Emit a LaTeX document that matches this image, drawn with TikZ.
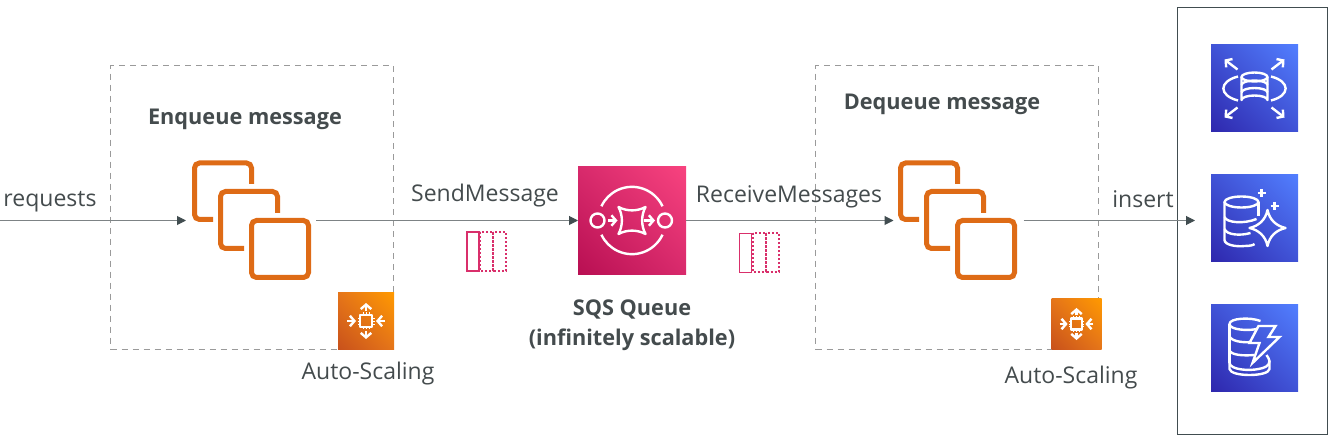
\documentclass[tikz,border=0pt]{standalone}
\usepackage{fontspec}
\setmainfont{Open Sans}
\usetikzlibrary{arrows.meta,shadings}
\definecolor{txt}{HTML}{444B4D}
\definecolor{conn}{HTML}{7D8385}
\definecolor{tip}{HTML}{414D50}
\definecolor{dashc}{HTML}{9A9A9A}
\definecolor{stackc}{HTML}{DE6B16}
\definecolor{pinkc}{HTML}{D92F6B}
\definecolor{sqsA}{HTML}{B80F52}
\definecolor{sqsB}{HTML}{F8437F}
\definecolor{sqsM}{HTML}{D82A6C}
\definecolor{dbA}{HTML}{2E27AD}
\definecolor{dbB}{HTML}{527FFF}
\definecolor{dbM}{HTML}{4053D6}
\definecolor{asA}{HTML}{C8511B}
\definecolor{asB}{HTML}{FF9900}
\definecolor{asM}{HTML}{E5751A}
\tikzset{
  x=1pt,y=-1pt,
  lbl/.style={text=txt,font=\fontsize{23}{27}\selectfont,inner sep=0pt},
  blbl/.style={text=txt,font=\fontsize{21.7}{26}\selectfont\bfseries,inner sep=0pt},
  dashbox/.style={draw=dashc,line width=1.2pt,dash pattern=on 6pt off 5pt,minimum width=283pt,minimum height=284pt,inner sep=0pt,anchor=north west},
  hold/.style={minimum width=130pt,minimum height=120pt,inner sep=0pt,outer sep=0pt},
  link/.style={draw=conn,line width=1pt,-{Triangle[length=9pt,width=9pt,color=tip]}},
  sq/.style={draw=stackc,line width=5pt,rounded corners=5pt,line cap=butt},
  ico/.style={draw=white,line width=2.4pt,line join=round},
  barb/.style={ico,-{Straight Barb[length=4.5pt,width=10.5pt]}},
  sqsbox/.style={minimum size=108pt,inner sep=0pt,outer sep=0pt,shade,lower left=sqsA,upper right=sqsB,upper left=sqsM,lower right=sqsM},
  dbbox/.style={minimum size=87pt,inner sep=0pt,outer sep=0pt,shade,lower left=dbA,upper right=dbB,upper left=dbM,lower right=dbM},
  asbox/.style={inner sep=0pt,outer sep=0pt,shade,lower left=asA,upper right=asB,upper left=asM,lower right=asM},
  stackicon/.pic={
    \draw[sq] (0.5,-36.5) -- (0.5,-57.5) -- (-56.5,-57.5) -- (-56.5,-1) -- (-38,-1);
    \draw[sq] (26.5,-7.5) -- (26.5,-29) -- (-30.5,-29) -- (-30.5,28) -- (-7,28);
    \draw[sq] (0.5,0) rectangle (57.5,57);
  },
  msgicon/.pic={
    \draw[draw=pinkc,line width=1.8pt] (0,0) rectangle (12,39);
    \draw[draw=pinkc,line width=2pt,dash pattern=on 2pt off 2pt] (13,0) rectangle (26,39);
    \draw[draw=pinkc,line width=2pt,dash pattern=on 2pt off 2pt] (26,0) rectangle (39,39);
  },
  asicon/.pic={
    \draw[ico] (-6,-6) rectangle (6,6);
    \foreach \k in {-3,0,3}{
      \draw[white,line width=.9pt] (\k,-6) -- (\k,-8.5) (\k,6) -- (\k,8.5) (-6,\k) -- (-8.5,\k) (6,\k) -- (8.5,\k);
    }
    \draw[barb] (0,-10) -- (0,-18);
    \draw[barb] (0,10) -- (0,18);
    \draw[barb] (-19,0) -- (-10,0);
    \draw[barb] (19,0) -- (10,0);
  }
}
\begin{document}
\begin{tikzpicture}
\useasboundingbox (0,0) rectangle (1328,438);
% containers
\node[dashbox] (boxA) at (110,65) {};
\node[dashbox] (boxB) at (815,65) {};
\node[draw=tip,line width=1.3pt,minimum width=150pt,minimum height=427pt,inner sep=0pt,anchor=north west] (group) at (1177,7) {};
% anchors
\coordinate (reqstart) at (0,220.5);
\node[hold] (stackA) at (251,220.5) {};
\node[hold] (stackB) at (958.5,220.5) {};
\node[sqsbox] (sqs) at (632,220.5) {};
\node[dbbox] (rds) at (1254.5,88.5) {};
\node[dbbox] (aurora) at (1254.5,218) {};
\node[dbbox] (dynamo) at (1254.5,348) {};
% connectors
\draw[link] (reqstart) -- (stackA.west);
\draw[link] (stackA.east) -- (sqs.west);
\draw[link] (sqs.east) -- (stackB.west);
\draw[link,shorten >=16pt] (stackB.east) -- (stackB.east -| aurora.west);
% stacks
\pic at (251,220.5) {stackicon};
\pic at (957,220.5) {stackicon};
% autoscaling
\node[asbox,minimum size=56pt] (asiconA) at (366,321) {};
\pic at (asiconA.center) {asicon};
\node[asbox,minimum size=50pt] (asiconB) at (1076.5,324) {};
\pic[scale=.89] at (asiconB.center) {asicon};
% messages
\pic at (467,232) {msgicon};
\pic at (739.5,233.5) {msgicon};
% SQS icon
\begin{scope}[shift={(sqs.center)}]
  \draw[ico] (30.5,-14.2) arc[start angle=-25,end angle=-155,radius=33.7];
  \draw[ico] (30.5,14.2) arc[start angle=25,end angle=155,radius=33.7];
  \draw[ico] (-34.5,0) circle[radius=7];
  \draw[ico] (33,0) circle[radius=7];
  \draw[barb] (-24,0) -- (-14.5,0);
  \draw[barb] (12,0) -- (23,0);
  \draw[ico] (-13.5,-13.5) .. controls (-5,-9) and (5,-9) .. (13.5,-13.5)
     .. controls (9,-5) and (9,5) .. (13.5,13.5)
     .. controls (5,9) and (-5,9) .. (-13.5,13.5)
     .. controls (-9,5) and (-9,-5) .. (-13.5,-13.5) -- cycle;
\end{scope}
% RDS icon
\begin{scope}[shift={(rds.center)}]
  \draw[ico] (0,-11.5) ellipse[x radius=13,y radius=4.5];
  \draw[ico] (-13,-11.5) -- (-13,11.5) arc[start angle=180,end angle=0,x radius=13,y radius=-4.5] -- (13,-11.5);
  \draw[ico] (-13,-3.5) arc[start angle=180,end angle=0,x radius=13,y radius=-4.5];
  \draw[ico] (-13,4) arc[start angle=180,end angle=0,x radius=13,y radius=-4.5];
  \draw[ico] (-16.5,-12) .. controls (-36,-7) and (-36,7) .. (-16.5,12);
  \draw[ico] (16.5,-12) .. controls (36,-7) and (36,7) .. (16.5,12);
  \draw[barb] (-17,-19) -- (-30,-29);
  \draw[barb] (17,-19) -- (30,-29);
  \draw[barb] (-17,19) -- (-30,29);
  \draw[barb] (17,19) -- (30,29);
\end{scope}
% Aurora icon
\begin{scope}[shift={(aurora.center)}]
  \draw[ico] (-13,-16) ellipse[x radius=17,y radius=5.5];
  \draw[ico] (4,-16) -- (4,-2);
  \draw[ico] (-30,-16) -- (-30,22) .. controls (-30,27) and (-18,29) .. (-10,28) .. controls (-4,28) and (-1,27) .. (0,26);
  \draw[ico] (-30,-1) .. controls (-28,5) and (-10,6) .. (2,1);
  \draw[ico] (-30,11) .. controls (-28,17) and (-14,18) .. (-4,15);
  \draw[ico] (13,-8) .. controls (15,2) and (22,8) .. (31,10)
     .. controls (22,12) and (15,18) .. (13,28)
     .. controls (11,18) and (4,12) .. (-5,10)
     .. controls (4,8) and (11,2) .. (13,-8) -- cycle;
  \draw[ico] (3,-25) -- (11,-25) (7,-29) -- (7,-21);
  \draw[ico] (16,-12) -- (24,-12) (20,-16) -- (20,-8);
\end{scope}
% DynamoDB icon
\begin{scope}[shift={(dynamo.center)}]
  \draw[ico] (6,-27) .. controls (-4,-31) and (-25,-30) .. (-25,-24) .. controls (-25,-18) and (-6,-17) .. (2,-19);
  \draw[ico] (-25,-24) -- (-25,15);
  \draw[ico] (-25,-12) .. controls (-24,-7) and (-12,-5) .. (-3,-6);
  \draw[ico] (-25,2) .. controls (-24,7) and (-12,8) .. (0,7);
  \draw[ico] (-25,15) -- (-25,21) .. controls (-24,29) and (14,29) .. (15,21) -- (15,13);
  \draw[ico] (-25,15) .. controls (-24,22) and (-5,23) .. (4,21) .. controls (10,20) and (15,18) .. (15,13) .. controls (15,11) and (13,9) .. (12,7);
  \draw[ico,line join=miter] (4,-22) -- (21,-22) -- (14,-11) -- (25,-11) -- (-2,15) -- (5,-5) -- (-5,-5) -- cycle;
\end{scope}
% labels
\node[lbl] (lreq) at (50,202) {requests};
\node[blbl] (lenq) at (245,119) {Enqueue message};
\node[lbl] (lsend) at (485,195.5) {SendMessage};
\node[lbl] (lrecv) at (789,196.5) {ReceiveMessages};
\node[blbl] (ldeq) at (942,104) {Dequeue message};
\node[lbl] (lins) at (1143,199) {insert};
\node[blbl] (lsqs) at (632,309) {SQS Queue};
\node[blbl] (lsqs2) at (632,340) {(infinitely scalable)};
\node[lbl] (lasA) at (368,374) {Auto-Scaling};
\node[lbl] (lasB) at (1071,378) {Auto-Scaling};
\end{tikzpicture}
\end{document}
